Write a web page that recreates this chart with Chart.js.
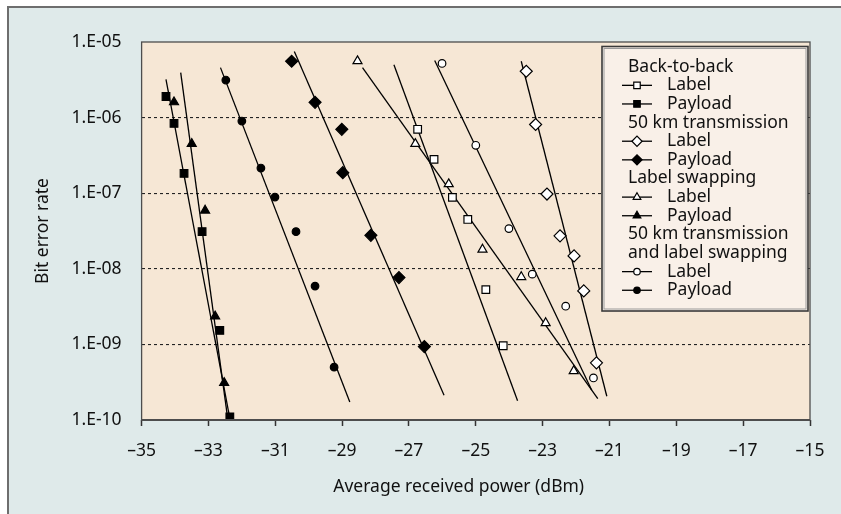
<!DOCTYPE html>
<html><head><meta charset="utf-8">
<script src="https://cdn.jsdelivr.net/npm/chart.js@4.4.1/dist/chart.umd.min.js"></script>
<style>html,body{margin:0;padding:0;background:#fff;}canvas{display:block;}</style>
</head><body>
<canvas id="c" width="841" height="514"></canvas>
<script>
// ---------- DATA ----------
const xTickValues = [-35, -33, -31, -29, -27, -25, -23, -21, -19, -17, -15];
const yTickValues = [1e-10, 1e-9, 1e-8, 1e-7, 1e-6, 1e-5];
const yTickLabels = ['1.E-10', '1.E-09', '1.E-08', '1.E-07', '1.E-06', '1.E-05'];
const xTitle = 'Average received power (dBm)';
const yTitle = 'Bit error rate';

// Back-to-back
const b2bLabelX = [-26.74, -26.25, -25.70, -25.24, -24.70, -24.18];
const b2bLabelY = [7.0e-7, 2.8e-7, 8.8e-8, 4.5e-8, 5.3e-9, 9.6e-10];
const b2bLabelFitX = [-27.45, -23.75];
const b2bLabelFitY = [5.0e-6, 1.8e-10];
const b2bPayloadX = [-34.27, -34.03, -33.73, -33.19, -32.66, -32.36];
const b2bPayloadY = [1.9e-6, 8.4e-7, 1.83e-7, 3.1e-8, 1.53e-9, 1.1e-10];
const b2bPayloadFitX = [-34.27, -32.36];
const b2bPayloadFitY = [3.2e-6, 1.05e-10];

// 50 km transmission
const km50LabelX = [-23.49, -23.21, -22.87, -22.48, -22.06, -21.77, -21.39];
const km50LabelY = [4.1e-6, 8.1e-7, 9.75e-8, 2.73e-8, 1.48e-8, 5.1e-9, 5.7e-10];
const km50LabelFitX = [-23.64, -21.08];
const km50LabelFitY = [5.56e-6, 2.06e-10];
const km50PayloadX = [-30.51, -29.81, -29.01, -28.98, -28.14, -27.30, -26.54];
const km50PayloadY = [5.56e-6, 1.59e-6, 7.0e-7, 1.87e-7, 2.77e-8, 7.65e-9, 9.35e-10];
const km50PayloadFitX = [-30.43, -25.95];
const km50PayloadFitY = [7.5e-6, 2.12e-10];

// Label swapping
const swapLabelX = [-28.54, -26.81, -25.81, -24.80, -23.64, -22.91, -22.07];
const swapLabelY = [5.6e-6, 4.5e-7, 1.32e-7, 1.8e-8, 7.8e-9, 1.92e-9, 4.45e-10];
const swapLabelFitX = [-28.39, -21.35];
const swapLabelFitY = [4.58e-6, 1.92e-10];
const swapPayloadX = [-34.03, -33.50, -33.10, -32.80, -32.53];
const swapPayloadY = [1.6e-6, 4.5e-7, 5.9e-8, 2.35e-9, 3.1e-10];
const swapPayloadFitX = [-33.83, -32.43];
const swapPayloadFitY = [3.94e-6, 1.1e-10];

// 50 km transmission and label swapping
const bothLabelX = [-26.01, -25.00, -24.01, -23.31, -22.31, -21.48];
const bothLabelY = [5.2e-6, 4.3e-7, 3.4e-8, 8.5e-9, 3.2e-9, 3.6e-10];
const bothLabelFitX = [-26.23, -21.53];
const bothLabelFitY = [5.7e-6, 2.47e-10];
const bothPayloadX = [-32.48, -32.00, -31.43, -31.01, -30.38, -29.81, -29.24];
const bothPayloadY = [3.14e-6, 9.0e-7, 2.15e-7, 8.9e-8, 3.1e-8, 5.9e-9, 5.0e-10];
const bothPayloadFitX = [-32.64, -28.77];
const bothPayloadFitY = [4.58e-6, 1.73e-10];

const groupNames = [['Back-to-back'], ['50 km transmission'], ['Label swapping'], ['50 km transmission', 'and label swapping']];
const itemNames = ['Label', 'Payload'];

// ---------- STYLE ----------
const FONT = "'Noto Sans', sans-serif";
const FS = 17.5;
const markerStyles = [
  {style: 'rect', filled: false, r: 5.4},
  {style: 'rect', filled: true, r: 5.4},
  {style: 'rectRot', filled: false, r: 6},
  {style: 'rectRot', filled: true, r: 6},
  {style: 'triangle', filled: false, r: 5.2},
  {style: 'triangle', filled: true, r: 5.2},
  {style: 'circle', filled: false, r: 3.8},
  {style: 'circle', filled: true, r: 3.8}
];
const seriesData = [
  [b2bLabelX, b2bLabelY, b2bLabelFitX, b2bLabelFitY],
  [b2bPayloadX, b2bPayloadY, b2bPayloadFitX, b2bPayloadFitY],
  [km50LabelX, km50LabelY, km50LabelFitX, km50LabelFitY],
  [km50PayloadX, km50PayloadY, km50PayloadFitX, km50PayloadFitY],
  [swapLabelX, swapLabelY, swapLabelFitX, swapLabelFitY],
  [swapPayloadX, swapPayloadY, swapPayloadFitX, swapPayloadFitY],
  [bothLabelX, bothLabelY, bothLabelFitX, bothLabelFitY],
  [bothPayloadX, bothPayloadY, bothPayloadFitX, bothPayloadFitY]
];

const datasets = [];
seriesData.forEach((s, i) => {
  const st = markerStyles[i];
  datasets.push({
    data: s[2].map((v, j) => ({x: v, y: s[3][j]})),
    showLine: true, pointRadius: 0, borderColor: '#000', borderWidth: 1.3, order: 2, clip: false
  });
  datasets.push({
    data: s[0].map((v, j) => ({x: v, y: s[1][j]})),
    showLine: false, pointStyle: st.style, pointRadius: st.r,
    backgroundColor: st.filled ? '#000' : '#fff', borderColor: '#000', pointBorderWidth: 1.2, order: 1
  });
});

const decor = {
  id: 'decor',
  beforeDraw(chart) {
    const {ctx, chartArea: a} = chart;
    ctx.save();
    ctx.fillStyle = '#ffffff';
    ctx.fillRect(0, 0, chart.width, chart.height);
    ctx.fillStyle = '#dfeaea';
    ctx.fillRect(8, 7, chart.width - 8, chart.height - 7);
    ctx.strokeStyle = '#6e6e6e';
    ctx.lineWidth = 2;
    ctx.beginPath();
    ctx.moveTo(8, chart.height); ctx.lineTo(8, 7); ctx.lineTo(chart.width, 7);
    ctx.stroke();
    ctx.fillStyle = '#f6e7d5';
    ctx.fillRect(a.left, a.top, a.right - a.left, a.bottom - a.top);
    ctx.restore();
  },
  afterDraw(chart) {
    const {ctx, chartArea: a} = chart;
    ctx.save();
    // plot frame
    ctx.strokeStyle = '#4d4d4d';
    ctx.lineWidth = 1.3;
    ctx.strokeRect(a.left, a.top, a.right - a.left, a.bottom - a.top);
    ctx.lineWidth = 2.2;
    ctx.beginPath(); ctx.moveTo(a.left, a.bottom); ctx.lineTo(a.right, a.bottom); ctx.stroke();
    // x title
    ctx.fillStyle = '#111';
    ctx.font = FS + 'px ' + FONT;
    ctx.textAlign = 'center';
    ctx.textBaseline = 'middle';
    ctx.fillText(xTitle, 458.7, 487);
    // legend
    const lx = 602, ly = 46.5, lw = 206, lh = 264.5;
    ctx.fillStyle = '#f9f0e8';
    ctx.fillRect(lx, ly, lw, lh);
    ctx.strokeStyle = '#9a9a9a';
    ctx.lineWidth = 1;
    ctx.strokeRect(lx + 2, ly + 2, lw - 4, lh - 4);
    ctx.strokeStyle = '#3a3a3a';
    ctx.lineWidth = 1.6;
    ctx.strokeRect(lx, ly, lw, lh);
    ctx.textAlign = 'left';
    let y = 66.7;
    const step = 18.63;
    groupNames.forEach((g, gi) => {
      g.forEach(t => {
        ctx.fillStyle = '#111';
        ctx.fillText(t, 628, y);
        y += step;
      });
      itemNames.forEach((name, k) => {
        const st = markerStyles[gi * 2 + k];
        ctx.strokeStyle = '#000';
        ctx.lineWidth = 1.3;
        ctx.beginPath(); ctx.moveTo(622, y); ctx.lineTo(652, y); ctx.stroke();
        ctx.fillStyle = st.filled ? '#000' : '#fff';
        ctx.lineWidth = 1.2;
        Chart.helpers.drawPoint(ctx, {pointStyle: st.style, radius: st.r * 0.85, rotation: 0, borderWidth: 1.2}, 637, y);
        ctx.fillStyle = '#111';
        ctx.fillText(name, 667, y);
        y += step;
      });
    });
    ctx.restore();
  }
};

new Chart(document.getElementById('c'), {
  type: 'scatter',
  data: {datasets},
  plugins: [decor],
  options: {
    responsive: false,
    animation: false,
    devicePixelRatio: 1,
    layout: {padding: {left: 0, top: 42, right: 31, bottom: 0}},
    plugins: {legend: {display: false}, tooltip: {enabled: false}},
    scales: {
      x: {
        type: 'linear', min: -35, max: -15,
        afterBuildTicks: s => { s.ticks = xTickValues.map(v => ({value: v})); },
        afterFit: s => { s.height = 94; },
        ticks: {
          callback: v => String(v).replace('-', '\u2013'),
          font: {family: FONT, size: FS}, color: '#111', padding: 15, maxRotation: 0, autoSkip: false
        },
        grid: {drawOnChartArea: false, drawTicks: true, tickLength: 6, tickColor: '#333', tickWidth: 1.5},
        border: {display: false}
      },
      y: {
        type: 'logarithmic', min: 1e-10, max: 1e-5,
        afterBuildTicks: s => { s.ticks = yTickValues.map(v => ({value: v})); },
        afterFit: s => { s.width = 141.6; },
        ticks: {
          callback: (v, i) => yTickLabels[i],
          font: {family: FONT, size: FS}, color: '#111', padding: 20, autoSkip: false
        },
        grid: {
          drawTicks: false, lineWidth: 1.1,
          color: c => (c.index === 0 || c.index === yTickValues.length - 1) ? 'rgba(0,0,0,0)' : '#222'
        },
        border: {display: false, dash: [3, 3]},
        title: {display: true, text: yTitle, font: {family: FONT, size: FS}, color: '#111', padding: {top: 33, bottom: 0}}
      }
    }
  }
});
</script>
</body></html>
